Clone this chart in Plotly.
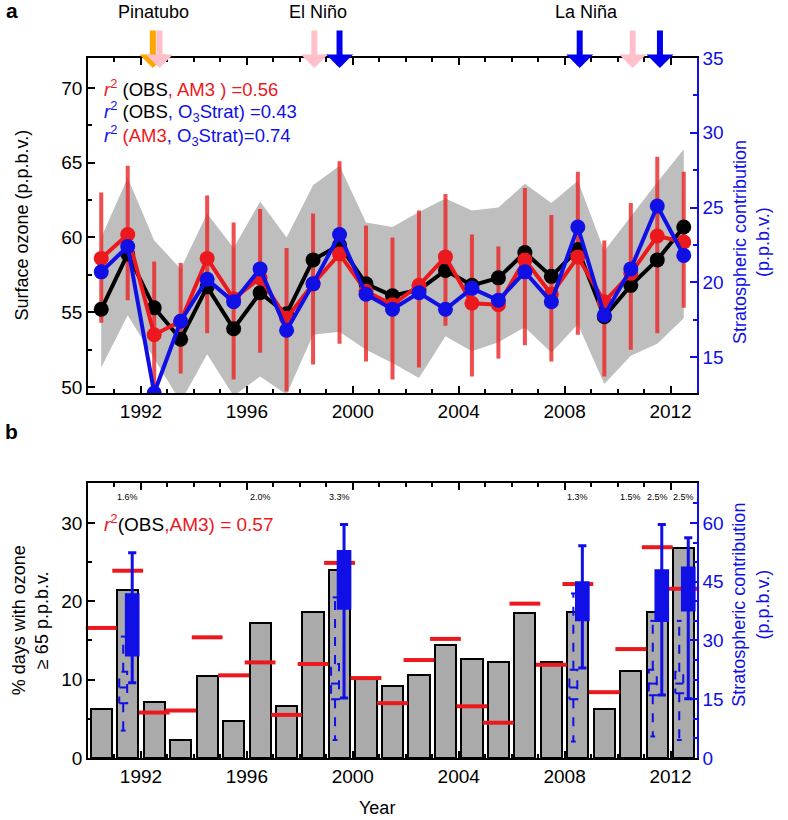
import numpy as np
import plotly.graph_objects as go

years = list(range(1990, 2013))
xpos = [y + 0.5 for y in years]

# Panel a: surface ozone (left axis, ppbv)
obs = [55.2, 58.9, 55.3, 53.2, 56.7, 53.9, 56.3, 54.9, 58.5, 59.5, 56.9, 56.1, 56.5,
       57.8, 56.8, 57.3, 59.0, 57.4, 59.2, 54.7, 56.8, 58.5, 60.7]
am3 = [58.6, 60.2, 53.5, 54.4, 58.6, 55.9, 57.3, 54.6, 56.9, 58.9, 56.4, 55.5, 56.8,
       58.7, 55.6, 55.5, 58.5, 56.2, 58.7, 55.7, 57.6, 60.1, 59.7]
am3_err_top = [63.0, 64.8, 58.4, 58.3, 62.8, 61.0, 61.9, 59.3, 61.6, 65.1, 60.8, 60.0, 61.8,
               62.9, 60.2, 59.4, 63.3, 61.5, 64.4, 59.8, 62.3, 65.4, 64.4]
am3_err_bot = [54.3, 55.8, 49.4, 50.9, 53.6, 50.5, 52.3, 49.7, 51.5, 52.9, 51.7, 50.5, 51.3,
               54.1, 50.7, 51.9, 52.8, 51.7, 53.5, 50.7, 52.5, 53.6, 55.3]
band_top = [60.0, 64.0, 59.8, 57.9, 61.6, 59.3, 62.4, 60.0, 63.5, 64.8, 61.0, 60.7, 61.7,
            62.6, 61.8, 62.0, 63.6, 62.3, 63.8, 59.1, 61.4, 63.7, 65.9]
band_bot = [51.3, 54.8, 51.9, 49.0, 52.2, 49.4, 50.7, 49.5, 53.5, 53.7, 52.5, 51.6, 50.6,
            53.4, 52.4, 53.0, 54.0, 52.3, 54.2, 50.2, 52.1, 52.9, 54.6]
# Stratospheric contribution (right axis, ppbv)
o3strat = [20.7, 22.4, 12.6, 17.4, 20.2, 18.7, 20.9, 16.8, 19.9, 23.2, 19.2, 18.2, 19.3,
           18.2, 19.6, 18.8, 20.7, 18.7, 23.7, 17.8, 20.9, 25.1, 21.8]

event_x = [1992.45, 1992.7, 1998.55, 1999.5, 2008.57, 2010.57, 2011.6]
event_colors = ["#ffa500", "#ffc0cb", "#ffc0cb", "#0000ee", "#0000ee", "#ffc0cb", "#0000ee"]
event_labels = ["Pinatubo", "El Niño", "La Niña"]
event_label_x = [1992.49, 1998.69, 2008.84]

# Panel b: % days with ozone >= 65 ppbv
obs_days = [6.3, 21.5, 7.1, 2.25, 10.5, 4.7, 17.2, 6.6, 18.6, 24.0, 10.2, 9.2, 10.6,
            14.4, 12.7, 12.2, 18.5, 12.2, 18.7, 6.2, 11.1, 18.7, 26.8]
am3_days = [16.6, 23.9, 5.8, 6.06, 15.4, 10.55, 12.2, 5.5, 12.0, 24.9, 10.2, 7.0, 12.5,
            15.2, 6.6, 4.5, 19.7, 11.9, 22.2, 8.4, 13.9, 26.9, 21.6]
pct_years = [1991, 1996, 1999, 2008, 2010, 2011, 2012]
pct_labels = ["1.6%", "2.0%", "3.3%", "1.3%", "1.5%", "2.5%", "2.5%"]

box_years = [1991, 1999, 2008, 2011, 2012]
# solid boxes (stratospheric contribution on high-ozone days)
s_hi = [52.4, 59.6, 54.2, 59.6, 56.2]
s_q3 = [41.7, 52.7, 44.7, 47.8, 48.5]
s_med = [35.0, 47.0, 40.0, 41.0, 43.0]
s_q1 = [26.3, 38.2, 35.3, 35.1, 37.8]
s_lo = [19.2, 15.3, 23.0, 16.1, 15.1]
# dashed boxes (all days)
d_hi = [31.0, 41.0, 42.0, 35.0, 35.0]
d_q3 = [22.0, 24.0, 22.5, 22.5, 22.0]
d_med = [18.0, 19.0, 18.0, 19.0, 19.0]
d_q1 = [14.0, 15.0, 15.0, 16.0, 16.5]
d_lo = [7.0, 4.6, 4.2, 5.5, 4.6]

RED = "rgb(235,25,30)"
BLUE = "rgb(15,15,230)"
FONT = "Liberation Sans, Arial, Helvetica, sans-serif"
TS = 19

fig = go.Figure()

# ---- panel a ----
fig.add_trace(go.Scatter(x=xpos, y=band_bot, mode="lines", line=dict(width=0),
                         showlegend=False, xaxis="x", yaxis="y", hoverinfo="skip"))
fig.add_trace(go.Scatter(x=xpos, y=band_top, mode="lines", line=dict(width=0),
                         fill="tonexty", fillcolor="rgb(190,190,190)",
                         showlegend=False, xaxis="x", yaxis="y", hoverinfo="skip"))
ea = np.array(am3)
fig.add_trace(go.Scatter(x=xpos, y=am3, mode="markers", marker=dict(size=1, opacity=0),
                         error_y=dict(type="data", symmetric=False,
                                      array=list(np.array(am3_err_top) - ea),
                                      arrayminus=list(ea - np.array(am3_err_bot)),
                                      width=0, thickness=4, color="rgba(235,35,35,0.8)"),
                         showlegend=False, xaxis="x", yaxis="y"))
fig.add_trace(go.Scatter(x=xpos, y=obs, mode="lines+markers",
                         line=dict(color="black", width=4), marker=dict(size=15, color="black"),
                         showlegend=False, xaxis="x", yaxis="y"))
fig.add_trace(go.Scatter(x=xpos, y=am3, mode="lines+markers",
                         line=dict(color=RED, width=4), marker=dict(size=15, color=RED),
                         showlegend=False, xaxis="x", yaxis="y"))
fig.add_trace(go.Scatter(x=xpos, y=o3strat, mode="lines+markers",
                         line=dict(color=BLUE, width=4), marker=dict(size=15, color=BLUE),
                         showlegend=False, xaxis="x", yaxis="y2"))

# ---- panel b ----
fig.add_trace(go.Bar(x=xpos, y=obs_days, width=0.8, marker=dict(color="rgb(170,170,170)",
                     line=dict(color="black", width=2)), showlegend=False,
                     xaxis="x2", yaxis="y3"))
fig.add_trace(go.Scatter(x=xpos, y=am3_days, mode="markers",
                         marker=dict(symbol="line-ew-open", size=22, color=RED,
                                     line=dict(color=RED, width=4)),
                         showlegend=False, xaxis="x2", yaxis="y3", cliponaxis=False))

# dashed boxes
dw = 0.15
for i, yr in enumerate(box_years):
    c = yr + 0.5 - 0.17
    xs = [c, c, None, c - dw * 0.6, c + dw * 0.6, None,
          c - dw, c + dw, c + dw, c - dw, c - dw, None,
          c - dw, c + dw, None,
          c, c, None, c - dw * 0.6, c + dw * 0.6]
    ys = [d_q3[i], d_hi[i], None, d_hi[i], d_hi[i], None,
          d_q1[i], d_q1[i], d_q3[i], d_q3[i], d_q1[i], None,
          d_med[i], d_med[i], None,
          d_q1[i], d_lo[i], None, d_lo[i], d_lo[i]]
    fig.add_trace(go.Scatter(x=xs, y=ys, mode="lines",
                             line=dict(color=BLUE, width=2, dash="dash"),
                             showlegend=False, xaxis="x2", yaxis="y4", hoverinfo="skip"))

fig.add_trace(go.Box(x=[y + 0.5 + 0.17 for y in box_years], q1=s_q1, median=s_med, q3=s_q3,
                     lowerfence=s_lo, upperfence=s_hi, width=0.44, whiskerwidth=0.7,
                     fillcolor=BLUE, line=dict(color=BLUE, width=3), boxpoints=False,
                     showlegend=False, xaxis="x2", yaxis="y4"))

# ---- axes ----
xcommon = dict(range=[1990, 2013], tickvals=[1992, 1996, 2000, 2004, 2008, 2012],
               ticks="inside", ticklen=7, tickwidth=1.5, tickcolor="black",
               minor=dict(dtick=1, tick0=1990, ticks="inside", ticklen=4, tickwidth=1.5,
                          tickcolor="black"),
               showline=True, linecolor="black", linewidth=1.5, mirror="ticks",
               showgrid=False, zeroline=False,
               tickfont=dict(size=TS, color="black", family=FONT))
fig.update_layout(
    xaxis=dict(domain=[0, 1], anchor="y", **xcommon),
    xaxis2=dict(domain=[0, 1], anchor="y3", **xcommon),
    yaxis=dict(domain=[0.5214, 1.0], range=[49.6, 72.0], tickvals=[50, 55, 60, 65, 70],
               ticks="inside", ticklen=7, tickwidth=1.5, tickcolor="black",
               minor=dict(dtick=2.5, tick0=50, ticks="inside", ticklen=4, tickwidth=1.5,
                          tickcolor="black"),
               showline=True, linecolor="black", linewidth=1.5, showgrid=False,
               zeroline=False, anchor="x",
               tickfont=dict(size=TS, color="black", family=FONT)),
    yaxis2=dict(range=[12.6, 35.0], overlaying="y", side="right", anchor="x",
                tickvals=[15, 20, 25, 30, 35], ticks="inside", ticklen=7, tickwidth=1.5,
                tickcolor=BLUE,
                minor=dict(dtick=2.5, tick0=15, ticks="inside", ticklen=4, tickwidth=1.5,
                           tickcolor=BLUE),
                showline=True, linecolor=BLUE, linewidth=1.5, showgrid=False,
                zeroline=False, tickfont=dict(size=TS, color=BLUE, family=FONT)),
    yaxis3=dict(domain=[0, 0.3929], range=[0, 35.1], tickvals=[0, 10, 20, 30],
                ticks="inside", ticklen=7, tickwidth=1.5, tickcolor="black",
                minor=dict(dtick=5, tick0=0, ticks="inside", ticklen=4, tickwidth=1.5,
                           tickcolor="black"),
                showline=True, linecolor="black", linewidth=1.5, showgrid=False,
                zeroline=False, anchor="x2",
                tickfont=dict(size=TS, color="black", family=FONT)),
    yaxis4=dict(range=[0, 70.2], overlaying="y3", side="right", anchor="x2",
                tickvals=[0, 15, 30, 45, 60], ticks="inside", ticklen=7, tickwidth=1.5,
                tickcolor=BLUE,
                minor=dict(dtick=5, tick0=0, ticks="inside", ticklen=4, tickwidth=1.5,
                           tickcolor=BLUE),
                showline=True, linecolor=BLUE, linewidth=1.5, showgrid=False,
                zeroline=False, tickfont=dict(size=TS, color=BLUE, family=FONT)),
    width=788, height=820,
    margin=dict(l=88, r=91, t=58, b=62),
    paper_bgcolor="white", plot_bgcolor="white",
    font=dict(family=FONT, color="black"),
    showlegend=False, bargap=0,
)

ann = []
# event arrows
for ex, col in zip(event_x, event_colors):
    ann.append(dict(x=ex, y=0.9857, xref="x", yref="paper", ax=0, ay=-39,
                    showarrow=True, arrowhead=1, arrowwidth=6, arrowsize=0.75,
                    arrowcolor=col, text=""))
for lbl, lx in zip(event_labels, event_label_x):
    ann.append(dict(x=lx, y=1.0657, xref="x", yref="paper", text=lbl, showarrow=False,
                    xanchor="center", yanchor="middle",
                    font=dict(size=18, color="black")))

def A(x, y, text, size=18, color="black", angle=0, xanchor="center"):
    return dict(x=x, y=y, xref="paper", yref="paper", text=text, showarrow=False,
                xanchor=xanchor, yanchor="middle", textangle=angle,
                font=dict(size=size, color=color))

ann += [
    A(0.023, 0.957, f"<span style='color:{RED}'><i>r</i><sup>2</sup></span> (OBS<span style='color:{RED}'>, AM3 ) =0.56</span>", 18.5, xanchor="left"),
    A(0.023, 0.923, f"<span style='color:{BLUE}'><i>r</i><sup>2</sup></span> (OBS<span style='color:{BLUE}'>, O<sub>3</sub>Strat) =0.43</span>", 18.5, xanchor="left"),
    A(0.023, 0.889, f"<span style='color:{BLUE}'><i>r</i><sup>2</sup></span> <span style='color:{RED}'>(AM3</span><span style='color:{BLUE}'>, O<sub>3</sub>Strat)=0.74</span>", 18.5, xanchor="left"),
    A(0.023, 0.336, f"<span style='color:{RED}'><i>r</i><sup>2</sup></span>(OBS<span style='color:{RED}'>,AM3) = 0.57</span>", 19, xanchor="left"),
    A(-0.125, 1.068, "<b>a</b>", 21),
    A(-0.125, 0.466, "<b>b</b>", 21),
    A(-0.108, 0.761, "Surface ozone (p.p.b.v.)", 18, angle=-90),
    A(-0.095, 0.197, "% days with ozone<br>≥ 65 p.p.b.v.", 18, angle=-90),
    A(1.0887, 0.737, "Stratospheric contribution<br>(p.p.b.v.)", 18, BLUE, -90),
    A(1.0887, 0.219, "Stratospheric contribution<br>(p.p.b.v.)", 18, BLUE, -90),
    A(0.4745, -0.0714, "Year", 18),
]
for py, pl in zip(pct_years, pct_labels):
    ann.append(dict(x=py + 0.5, y=0.949, xref="x2", yref="y3 domain", text=pl,
                    xanchor="center", yanchor="middle",
                    showarrow=False, font=dict(size=9, color="black")))

fig.update_layout(annotations=ann)
fig.write_html("out.html", config={"displayModeBar": False},
               post_script="document.body.style.margin='0px';document.body.style.overflow='hidden';")
